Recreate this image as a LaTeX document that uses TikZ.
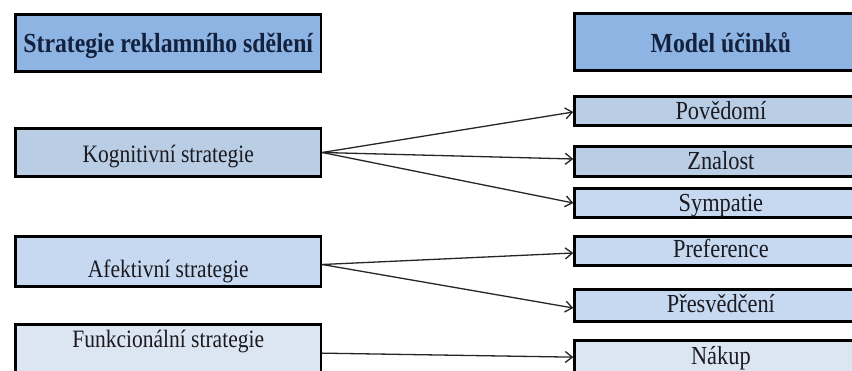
\documentclass[tikz,border=0pt]{standalone}
\usepackage{fontspec}
\setmainfont{Liberation Serif}[FakeStretch=0.86]
\usetikzlibrary{arrows.meta,calc}
\definecolor{hdr}{HTML}{8EB4E3}
\definecolor{cA}{HTML}{B9CDE5}
\definecolor{cB}{HTML}{C6D9F1}
\definecolor{cC}{HTML}{DCE6F2}
\definecolor{hdrtext}{HTML}{14213D}
\definecolor{bodytext}{HTML}{1A1A20}
\begin{document}
\begin{tikzpicture}[x=1pt,y=-1pt,
  lbox/.style={draw=black, line width=2.5pt, inner sep=0pt, anchor=base west,
    minimum width=305.4pt, text=bodytext, font=\fontsize{25}{29}\selectfont},
  rbox/.style={draw=black, line width=2.5pt, inner sep=0pt, anchor=base west,
    minimum width=292.7pt, text=bodytext, font=\fontsize{26}{30}\selectfont},
  hbox/.style={fill=hdr, text=hdrtext, font=\fontsize{27.6}{31}\selectfont\bfseries},
  conn/.style={draw=black!85, line width=1.3pt, -{Straight Barb[length=7pt,width=11pt,line width=1.3pt]}}
]
\fill[white] (0,0) rectangle (852,371);
\useasboundingbox (0,0) rectangle (852,371);
\clip (0,0) rectangle (852,371);

% left column
\node[lbox, hbox, text height=38.7pt, text depth=18.7pt] (lh) at (14.3,53) {Strategie reklamního sdělení};
\node[lbox, fill=cA, text height=34.7pt, text depth=13.7pt] (kog) at (14.3,163) {Kognitivní strategie};
\node[lbox, fill=cB, text height=41.7pt, text depth=8.7pt] (afe) at (14.3,278) {Afektivní strategie};
\node[lbox, fill=cC, text height=23.7pt, text depth=37pt] (fun) at (14.3,348) {Funkcionální strategie};

% right column
\node[rbox, hbox, text height=39.7pt, text depth=17.7pt] (rh) at (573.3,53) {Model účinků};
\node[rbox, fill=cA, text height=23.7pt, text depth=5.7pt] (pov) at (573.3,120) {Povědomí};
\node[rbox, fill=cA, text height=23.7pt, text depth=6.7pt] (zna) at (573.3,170) {Znalost};
\node[rbox, fill=cB, text height=23.7pt, text depth=5.7pt] (sym) at (573.3,212) {Sympatie};
\node[rbox, fill=cB, text height=21.7pt, text depth=7.7pt] (pre) at (573.3,258) {Preference};
\node[rbox, fill=cB, text height=23.7pt, text depth=8.7pt] (pres) at (573.3,313) {Přesvědčení};
\node[rbox, fill=cC, text height=24.7pt, text depth=7pt] (nak) at (573.3,365) {Nákup};

% connectors
\draw[conn] (kog.east) -- ($(pov.west)+(0,1)$);
\draw[conn] (kog.east) -- ($(zna.west)+(0,-2.5)$);
\draw[conn] (kog.east) -- (sym.west);
\draw[conn] ($(afe.east)+(0,3)$) -- ($(pre.west)+(0,2)$);
\draw[conn] ($(afe.east)+(0,3)$) -- ($(pres.west)+(0,2.5)$);
\draw[conn] ($(fun.east)+(0,-1.5)$) -- ($(nak.west)+(0,1)$);
\end{tikzpicture}
\end{document}
